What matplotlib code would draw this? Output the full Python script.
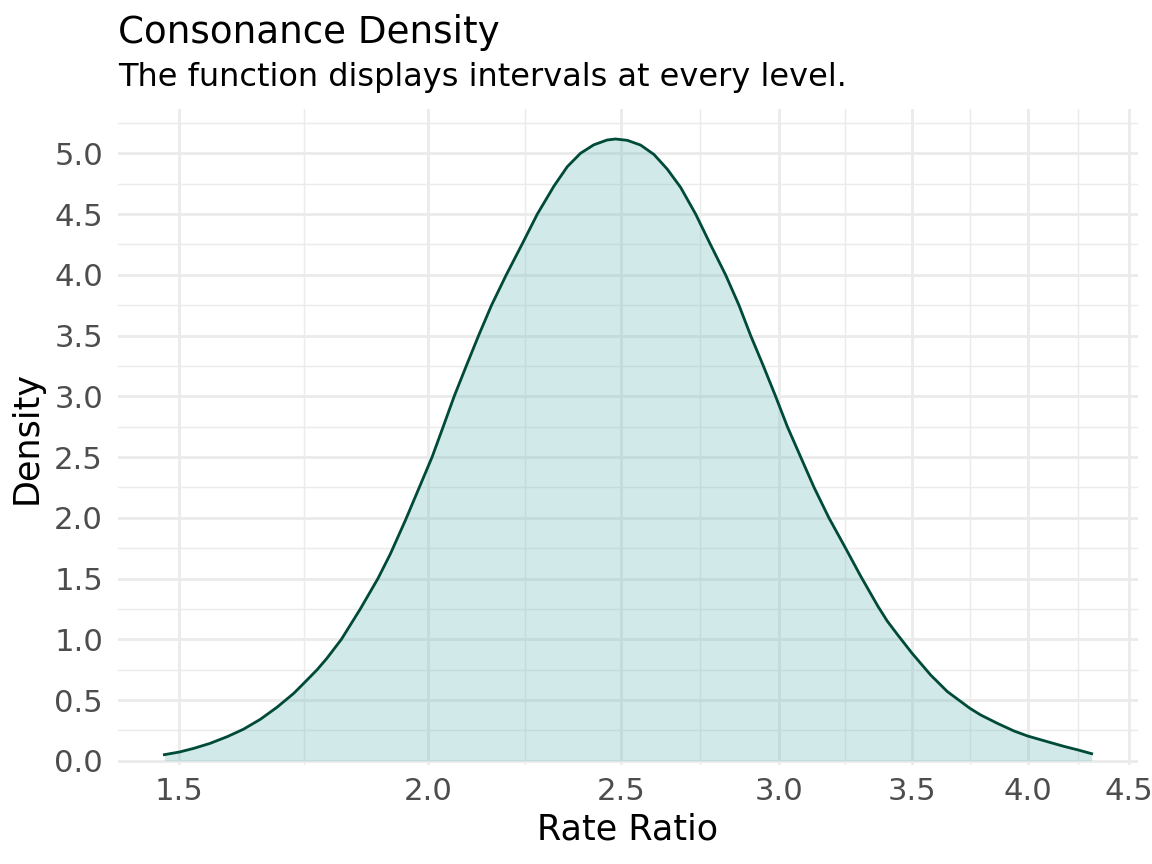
import matplotlib
matplotlib.use("Agg")
import matplotlib.pyplot as plt
from matplotlib.ticker import FixedLocator, NullFormatter, FixedFormatter
import numpy as np

# Data (rate ratio vs density)
rate_ratio = [1.474, 1.500, 1.525, 1.554, 1.585, 1.615, 1.647, 1.679, 1.712, 1.732,
              1.745, 1.759, 1.779, 1.809, 1.849, 1.887, 1.914, 1.948, 2.009,
              2.035, 2.061, 2.090, 2.120, 2.152, 2.189, 2.229, 2.269, 2.313, 2.349,
              2.385, 2.422, 2.460, 2.484, 2.518, 2.557, 2.597, 2.637, 2.678, 2.725,
              2.772, 2.821, 2.865, 2.904, 2.947, 2.989, 3.030, 3.077, 3.125, 3.179,
              3.241, 3.298, 3.365, 3.401, 3.441, 3.500, 3.576, 3.646, 3.742, 3.789,
              3.863, 3.938, 4.000, 4.093, 4.173, 4.243, 4.308]
density = [0.050, 0.072, 0.102, 0.143, 0.198, 0.259, 0.341, 0.440, 0.555, 0.638,
           0.692, 0.750, 0.844, 1.000, 1.250, 1.500, 1.700, 1.980, 2.500,
           2.750, 3.000, 3.250, 3.500, 3.750, 4.000, 4.250, 4.500, 4.730, 4.890,
           5.000, 5.070, 5.110, 5.118, 5.107, 5.068, 4.990, 4.870, 4.720, 4.500,
           4.250, 4.000, 3.750, 3.500, 3.250, 3.000, 2.750, 2.500, 2.250, 2.000,
           1.750, 1.520, 1.270, 1.150, 1.040, 0.885, 0.706, 0.569, 0.432, 0.377,
           0.308, 0.245, 0.204, 0.157, 0.118, 0.088, 0.058]

x_ticks = [1.5, 2.0, 2.5, 3.0, 3.5, 4.0, 4.5]
x_tick_labels = ["1.5", "2.0", "2.5", "3.0", "3.5", "4.0", "4.5"]
y_ticks = [0.0, 0.5, 1.0, 1.5, 2.0, 2.5, 3.0, 3.5, 4.0, 4.5, 5.0]
y_tick_labels = ["0.0", "0.5", "1.0", "1.5", "2.0", "2.5", "3.0", "3.5", "4.0", "4.5", "5.0"]

title = "Consonance Density"
subtitle = "The function displays intervals at every level."
xlabel = "Rate Ratio"
ylabel = "Density"

plt.rcParams['font.family'] = ['DejaVu Sans']

W, H = 1152, 864
fig = plt.figure(figsize=(8, 6), dpi=144)
left, right, top, bottom = 118 / W, 1138 / W, 109 / H, 765 / H
ax = fig.add_axes([left, 1 - bottom, right - left, bottom - top])

ax.set_xscale('log')
lo = np.log(min(rate_ratio)); hi = np.log(max(rate_ratio))
pad = 0.05 * (hi - lo)
ax.set_xlim(np.exp(lo - pad), np.exp(hi + pad))
ax.set_ylim(-0.035, 5.365)

# ticks and grid
ax.xaxis.set_major_locator(FixedLocator(x_ticks))
ax.xaxis.set_major_formatter(FixedFormatter(x_tick_labels))
minor_x = [np.sqrt(a * b) for a, b in zip(x_ticks[:-1], x_ticks[1:])]
ax.xaxis.set_minor_locator(FixedLocator(minor_x))
ax.xaxis.set_minor_formatter(NullFormatter())
ax.yaxis.set_major_locator(FixedLocator(y_ticks))
ax.yaxis.set_major_formatter(FixedFormatter(y_tick_labels))
minor_y = [(a + b) / 2 for a, b in zip(y_ticks[:-1], y_ticks[1:])] + [y_ticks[-1] + 0.25]
ax.yaxis.set_minor_locator(FixedLocator(minor_y))

ax.grid(which='major', color='#ebebeb', linewidth=1.42)
ax.grid(which='minor', color='#ebebeb', linewidth=0.71)
ax.set_axisbelow(True)
for s in ax.spines.values():
    s.set_visible(False)
ax.tick_params(which='both', length=0)
ax.tick_params(axis='y', which='major', labelsize=15.4, labelcolor='#4d4d4d', pad=7.5)
ax.tick_params(axis='x', which='major', labelsize=15.4, labelcolor='#4d4d4d', pad=6)

ax.fill_between(rate_ratio, 0, density, color='#6cb9b9', alpha=0.3, linewidth=0, zorder=2)
ax.plot(rate_ratio, density, color='#004a38', linewidth=1.4, zorder=3,
        solid_joinstyle='round')

ax.set_xlabel(xlabel, fontsize=17.5, color='black', labelpad=3)
ax.set_ylabel(ylabel, fontsize=17.5, color='black', labelpad=5)

fig.text(left, 1 - 43 / H, title, fontsize=18.6, color='black', ha='left', va='baseline')
fig.text(left, 1 - 86 / H, subtitle, fontsize=16, color='black', ha='left', va='baseline')

fig.savefig('out.png', dpi=144)
